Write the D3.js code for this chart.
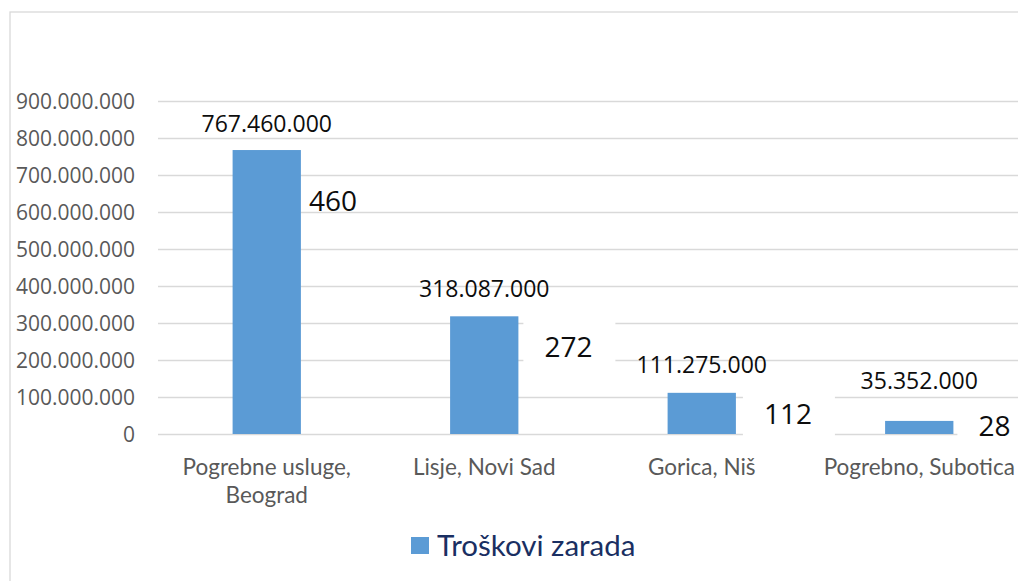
<!DOCTYPE html>
<html>
<head>
<meta charset="utf-8">
<script src="https://cdn.jsdelivr.net/npm/d3@7"></script>
<style>
  body { margin: 0; background: #fff; }
  svg { display: block; }
</style>
</head>
<body>
<div id="chart"></div>
<script>
// data
const categories = [["Pogrebne usluge,", "Beograd"], ["Lisje, Novi Sad"], ["Gorica, Niš"], ["Pogrebno, Subotica"]];
const troskovi = [767460000, 318087000, 111275000, 35352000];
const zaposleni = [460, 272, 112, 28];
const yTicks = [0, 100000000, 200000000, 300000000, 400000000, 500000000, 600000000, 700000000, 800000000, 900000000];
const seriesName = "Troškovi zarada";

const width = 1018, height = 581;
const plot = {left: 158, right: 1028, top: 101, bottom: 434};
// label nudges (the labels were moved by hand in the original)
const valueLabelDy = [-18, -19, -20, -32];
const countLabelDx = [8, 26, 28, 25];
const countLabelDy = [61, 41, 31, 15];
const countLabelBox = [false, true, true, true];

const fmt = d3.formatLocale({decimal: ",", thousands: ".", grouping: [3], currency: ["", ""]}).format(",");

const svg = d3.select("#chart").append("svg")
    .attr("width", width)
    .attr("height", height);

// chart frame
svg.append("rect")
    .attr("x", 10).attr("y", 12)
    .attr("width", 1040).attr("height", 620)
    .attr("fill", "#fff")
    .attr("stroke", "#d9d9d9")
    .attr("stroke-width", 1.3);

const y = d3.scaleLinear()
    .domain([0, 900000000])
    .range([plot.bottom, plot.top]);

const x = d3.scaleBand()
    .domain(d3.range(categories.length))
    .range([plot.left, plot.right])
    .padding(0);

const barW = x.bandwidth() * 0.314;

// y axis + gridlines
const yAxis = svg.append("g")
    .attr("transform", `translate(${plot.left},0)`)
    .call(d3.axisLeft(y)
        .tickValues(yTicks)
        .tickFormat(fmt)
        .tickSizeInner(-(plot.right - plot.left))
        .tickSizeOuter(0)
        .tickPadding(23));
yAxis.select(".domain").remove();
yAxis.selectAll(".tick line")
    .attr("stroke", "#d9d9d9")
    .attr("stroke-width", 1.3);
yAxis.selectAll(".tick text")
    .attr("fill", "#595959")
    .attr("dy", "0.36em")
    .style("font-family", "'Open Sans', sans-serif")
    .style("font-size", "21px");

// bars
svg.append("g").selectAll("rect")
    .data(troskovi)
    .join("rect")
    .attr("x", (d, i) => x(i) + x.bandwidth() / 2 - barW / 2)
    .attr("y", d => y(d))
    .attr("width", barW)
    .attr("height", d => y(0) - y(d))
    .attr("fill", "#5b9bd5");

// value labels
svg.append("g").selectAll("text")
    .data(troskovi)
    .join("text")
    .attr("x", (d, i) => x(i) + x.bandwidth() / 2)
    .attr("y", (d, i) => y(d) + valueLabelDy[i])
    .attr("text-anchor", "middle")
    .attr("fill", "#0d0d0d")
    .style("font-family", "'Open Sans', sans-serif")
    .style("font-size", "23px")
    .text(d => fmt(d));

// employee count labels
const countG = svg.append("g").selectAll("g")
    .data(zaposleni)
    .join("g")
    .attr("transform", (d, i) => {
        const bx = x(i) + x.bandwidth() / 2 + barW / 2 + countLabelDx[i];
        const by = y(troskovi[i]) + countLabelDy[i];
        return `translate(${bx},${by})`;
    });
countG.filter((d, i) => countLabelBox[i])
    .append("rect")
    .attr("x", -21).attr("y", -36)
    .attr("width", 92).attr("height", 50)
    .attr("fill", "#fff");
countG.append("text")
    .attr("fill", "#0d0d0d")
    .style("font-family", "'Open Sans', sans-serif")
    .style("font-size", "28px")
    .text(d => d);

// category labels
const catG = svg.append("g").selectAll("text")
    .data(categories)
    .join("text")
    .attr("x", (d, i) => x(i) + x.bandwidth() / 2)
    .attr("y", 475)
    .attr("text-anchor", "middle")
    .attr("fill", "#595959")
    .style("font-family", "Lato, sans-serif")
    .style("font-size", "22.5px");
catG.selectAll("tspan")
    .data(d => d)
    .join("tspan")
    .attr("x", function() { return this.parentNode.getAttribute("x"); })
    .attr("dy", (d, i) => i === 0 ? 0 : 28)
    .text(d => d);

// legend
const legend = svg.append("g").attr("transform", "translate(411,537)");
legend.append("rect")
    .attr("width", 18).attr("height", 17)
    .attr("fill", "#5b9bd5");
legend.append("text")
    .attr("x", 26).attr("y", 19)
    .attr("fill", "#1a2f62")
    .style("font-family", "Lato, sans-serif")
    .style("font-size", "29.5px")
    .text(seriesName);
</script>
</body>
</html>
